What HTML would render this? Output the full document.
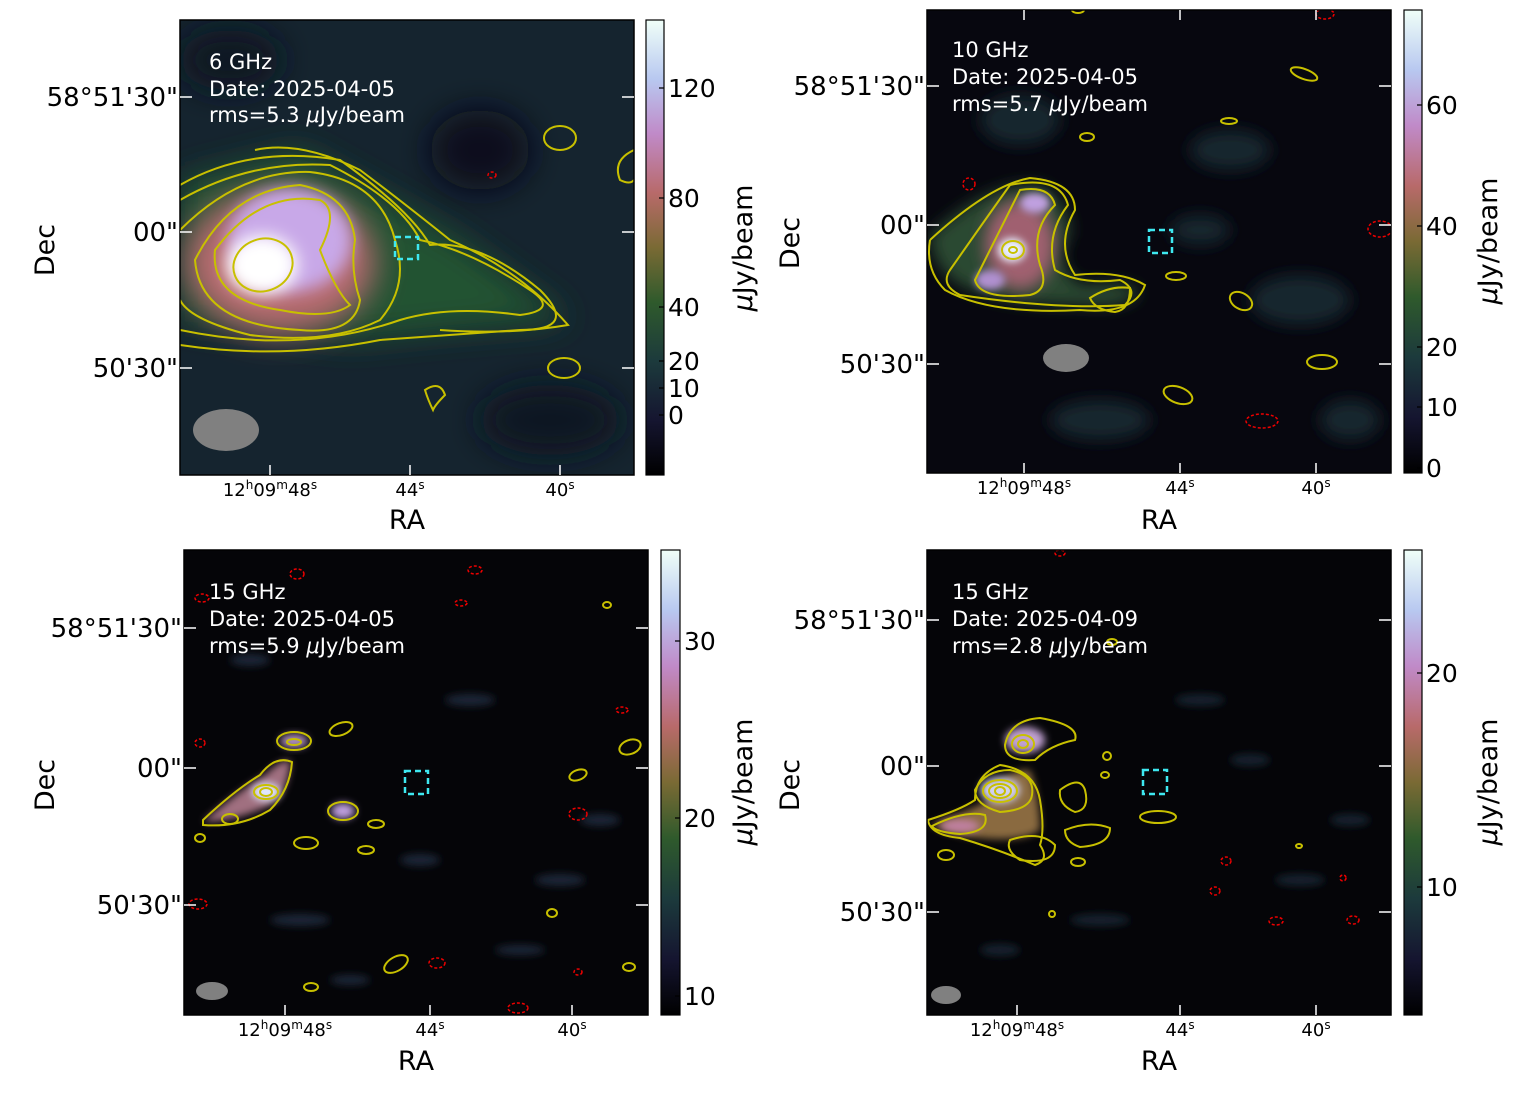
<!DOCTYPE html>
<html><head><meta charset="utf-8"><style>
html,body{margin:0;padding:0;background:#fff;}
svg text{font-family:"DejaVu Sans","Liberation Sans",sans-serif;}
</style></head><body>
<svg width="1520" height="1098" viewBox="0 0 1520 1098" xmlns="http://www.w3.org/2000/svg">
<defs>
<filter id="b8" x="-50%" y="-50%" width="200%" height="200%"><feGaussianBlur stdDeviation="8"/></filter>
<filter id="b14" x="-80%" y="-80%" width="260%" height="260%"><feGaussianBlur stdDeviation="16"/></filter>
<filter id="b4" x="-50%" y="-50%" width="200%" height="200%"><feGaussianBlur stdDeviation="4"/></filter>
<linearGradient id="cb" x1="0" y1="1" x2="0" y2="0">
<stop offset="0" stop-color="#000"/><stop offset="0.12" stop-color="#151530"/><stop offset="0.25" stop-color="#1c3a3c"/>
<stop offset="0.38" stop-color="#2f5a2c"/><stop offset="0.5" stop-color="#7a6a34"/><stop offset="0.62" stop-color="#b86a6a"/>
<stop offset="0.75" stop-color="#c08ac8"/><stop offset="0.87" stop-color="#b8c8f0"/><stop offset="1" stop-color="#f0fff8"/>
</linearGradient>
<clipPath id="c1"><rect x="180" y="20" width="454" height="455"/></clipPath>
<clipPath id="c2"><rect x="927" y="10" width="464" height="463"/></clipPath>
<clipPath id="c3"><rect x="184" y="550" width="464" height="465"/></clipPath>
<clipPath id="c4"><rect x="927" y="550" width="464" height="465"/></clipPath>
</defs>

<!-- Panel 1 -->
<g clip-path="url(#c1)">
<rect x="180" y="20" width="454" height="455" fill="#15242f"/>
<ellipse cx="480" cy="150" rx="50" ry="40" fill="#0c0e1c" filter="url(#b14)"/>
<ellipse cx="550" cy="420" rx="70" ry="35" fill="#0e1220" filter="url(#b14)"/>
<ellipse cx="230" cy="60" rx="50" ry="30" fill="#0e1422" filter="url(#b14)"/>
<path d="M180 180 L300 150 L390 200 L460 240 L570 320 L450 330 L350 340 L180 320 Z" fill="#245232" filter="url(#b14)"/>
<ellipse cx="280" cy="262" rx="95" ry="72" fill="#b86a70" filter="url(#b14)"/>
<ellipse cx="290" cy="240" rx="62" ry="52" fill="#c8a8e8" filter="url(#b8)"/>
<ellipse cx="262" cy="265" rx="36" ry="30" fill="#ffffff" filter="url(#b8)"/>
<g fill="none" stroke="#c8c000" stroke-width="2">
<ellipse cx="263" cy="265" rx="30" ry="26" transform="rotate(-20 263 265)"/>
<path d="M215 250 Q260 190 320 200 Q340 210 320 250 Q335 290 350 305 Q330 320 280 310 Q210 300 215 250Z"/>
<path d="M195 260 Q230 190 300 185 Q350 195 355 240 Q350 270 360 300 Q355 335 300 330 Q200 325 195 260Z"/>
<path d="M180 230 Q240 170 310 172 Q380 180 395 240 Q410 285 380 320 Q330 345 250 335 Q190 320 180 300"/>
<path d="M180 200 Q250 160 330 165 Q400 200 420 240 Q470 250 530 290 Q560 310 520 315 Q450 305 400 320 Q300 355 180 330"/>
<path d="M180 185 Q250 145 340 160 Q410 210 430 245 Q480 240 540 290 Q580 330 520 330 Q450 335 380 340 Q280 360 180 345"/>
<path d="M255 150 Q300 140 360 170 Q400 200 450 240 Q520 270 568 325 Q510 335 440 330"/>
<ellipse cx="560" cy="138" rx="16" ry="12"/><ellipse cx="564" cy="368" rx="16" ry="10"/>
<path d="M634 150 Q612 160 620 180 Q630 185 634 180"/>
<path d="M425 390 Q440 380 445 395 Q435 405 433 410 Q428 400 425 390Z"/>
</g>
<ellipse cx="492" cy="175" rx="4" ry="3" fill="none" stroke="#e00" stroke-width="1.5" stroke-dasharray="3 2"/>
<rect x="395" y="237" width="23" height="22" fill="none" stroke="#3ee8f0" stroke-width="2.5" stroke-dasharray="6 4"/>
<ellipse cx="226" cy="430" rx="33" ry="21" fill="#808080"/>
</g>
<rect x="180" y="20" width="454" height="455" fill="none" stroke="#000" stroke-width="1.5"/>
<g fill="#fff" font-size="21"><text x="209" y="69">6 GHz</text><text x="209" y="96">Date: 2025-04-05</text><text x="209" y="122">rms=5.3 <tspan font-style="italic">μ</tspan>Jy/beam</text></g>

<!-- Panel 2 -->
<g clip-path="url(#c2)">
<rect x="927" y="10" width="464" height="463" fill="#07070f"/>
<g filter="url(#b8)" fill="#16262f">
<ellipse cx="1230" cy="150" rx="40" ry="20"/><ellipse cx="1300" cy="300" rx="50" ry="25"/><ellipse cx="1100" cy="420" rx="50" ry="20"/><ellipse cx="1020" cy="120" rx="40" ry="25"/><ellipse cx="1350" cy="420" rx="30" ry="20"/><ellipse cx="1200" cy="230" rx="30" ry="15"/>
</g>
<path d="M930 235 Q990 180 1040 185 Q1070 200 1070 235 Q1050 260 1080 285 Q1120 280 1140 290 Q1130 310 1080 305 Q1000 305 960 285 Q930 265 930 235Z" fill="#2a4a30" filter="url(#b8)"/>
<ellipse cx="1020" cy="245" rx="35" ry="45" fill="#a06070" filter="url(#b8)"/>
<ellipse cx="1035" cy="203" rx="15" ry="10" fill="#c0a0e0" filter="url(#b4)"/>
<ellipse cx="1012" cy="250" rx="14" ry="12" fill="#e8f0ff" filter="url(#b4)"/>
<ellipse cx="990" cy="280" rx="15" ry="10" fill="#b090d0" filter="url(#b4)"/>
<g fill="none" stroke="#c8c000" stroke-width="2">
<ellipse cx="1013" cy="250" rx="11" ry="9"/><ellipse cx="1013" cy="250" rx="4" ry="3"/>
<path d="M975 280 Q1000 230 1020 190 Q1050 185 1055 205 Q1030 230 1040 265 Q1050 290 1030 295 Q980 300 975 280Z"/>
<path d="M950 270 Q985 220 1010 185 Q1060 175 1068 205 Q1045 235 1055 270 Q1080 285 1120 280 Q1140 290 1125 305 Q1060 310 960 295 Q940 285 950 270Z"/>
<path d="M930 240 Q990 185 1030 178 Q1075 182 1075 210 Q1055 245 1075 275 Q1120 270 1145 285 Q1135 315 1080 310 Q990 315 945 290 Q925 270 930 240"/>
<path d="M1090 298 Q1110 285 1130 288 Q1130 310 1115 312 Q1095 310 1090 298Z"/>
<ellipse cx="1241" cy="301" rx="12" ry="8" transform="rotate(30 1241 301)"/><ellipse cx="1322" cy="362" rx="15" ry="7"/>
<ellipse cx="1178" cy="395" rx="15" ry="8" transform="rotate(20 1178 395)"/><ellipse cx="1304" cy="74" rx="14" ry="5" transform="rotate(20 1304 74)"/>
<ellipse cx="1229" cy="121" rx="8" ry="3"/><ellipse cx="1087" cy="137" rx="7" ry="4"/><ellipse cx="1176" cy="276" rx="10" ry="4"/><ellipse cx="1078" cy="10" rx="6" ry="3"/>
</g>
<g fill="none" stroke="#e00" stroke-width="1.5" stroke-dasharray="3 2">
<ellipse cx="969" cy="184" rx="6" ry="6"/><ellipse cx="1262" cy="421" rx="16" ry="7"/><ellipse cx="1380" cy="229" rx="12" ry="8"/><ellipse cx="1325" cy="14" rx="9" ry="5"/>
</g>
<rect x="1149" y="230" width="23" height="23" fill="none" stroke="#3ee8f0" stroke-width="2.5" stroke-dasharray="6 4"/>
<ellipse cx="1066" cy="358" rx="23" ry="14" fill="#808080"/>
</g>
<rect x="927" y="10" width="464" height="463" fill="none" stroke="#000" stroke-width="1.5"/>
<g fill="#fff" font-size="21"><text x="952" y="57">10 GHz</text><text x="952" y="84">Date: 2025-04-05</text><text x="952" y="111">rms=5.7 <tspan font-style="italic">μ</tspan>Jy/beam</text></g>

<!-- Panel 3 -->
<g clip-path="url(#c3)">
<rect x="184" y="550" width="464" height="465" fill="#050508"/>
<g filter="url(#b4)" fill="#1c2838">
<ellipse cx="470" cy="700" rx="25" ry="6"/><ellipse cx="560" cy="880" rx="25" ry="6"/><ellipse cx="300" cy="920" rx="30" ry="6"/><ellipse cx="420" cy="860" rx="20" ry="6"/><ellipse cx="600" cy="820" rx="20" ry="6"/><ellipse cx="250" cy="660" rx="20" ry="6"/><ellipse cx="520" cy="950" rx="25" ry="5"/><ellipse cx="350" cy="980" rx="20" ry="5"/>
</g>
<path d="M205 820 Q240 790 265 775 Q280 760 290 760 Q290 790 270 805 Q240 820 205 822Z" fill="#a07080" filter="url(#b4)"/>
<ellipse cx="266" cy="792" rx="14" ry="9" fill="#e0e8ff" filter="url(#b4)"/>
<ellipse cx="294" cy="741" rx="14" ry="7" fill="#b090c0" filter="url(#b4)"/>
<ellipse cx="343" cy="811" rx="12" ry="8" fill="#c0a0e0" filter="url(#b4)"/>
<g fill="none" stroke="#c8c000" stroke-width="2">
<ellipse cx="266" cy="792" rx="12" ry="7"/><ellipse cx="266" cy="792" rx="6" ry="4"/>
<path d="M203 820 Q235 790 260 775 Q275 755 292 762 Q290 790 270 810 Q240 828 203 825Z"/>
<ellipse cx="230" cy="819" rx="8" ry="5"/>
<ellipse cx="294" cy="741" rx="17" ry="9"/><ellipse cx="294" cy="742" rx="7" ry="3"/>
<ellipse cx="343" cy="811" rx="15" ry="9"/><ellipse cx="341" cy="729" rx="12" ry="6" transform="rotate(-20 341 729)"/>
<ellipse cx="306" cy="843" rx="12" ry="6"/><ellipse cx="376" cy="824" rx="8" ry="4"/><ellipse cx="366" cy="850" rx="8" ry="4"/>
<ellipse cx="630" cy="747" rx="11" ry="7" transform="rotate(-20 630 747)"/><ellipse cx="578" cy="775" rx="9" ry="5" transform="rotate(-20 578 775)"/>
<ellipse cx="396" cy="964" rx="13" ry="7" transform="rotate(-30 396 964)"/><ellipse cx="311" cy="987" rx="7" ry="4"/>
<ellipse cx="552" cy="913" rx="5" ry="4"/><ellipse cx="629" cy="967" rx="6" ry="4"/><ellipse cx="200" cy="838" rx="5" ry="4"/><ellipse cx="607" cy="605" rx="4" ry="3"/>
</g>
<g fill="none" stroke="#e00" stroke-width="1.5" stroke-dasharray="3 2">
<ellipse cx="297" cy="574" rx="7" ry="5"/><ellipse cx="202" cy="598" rx="7" ry="4"/><ellipse cx="475" cy="570" rx="7" ry="4"/><ellipse cx="461" cy="603" rx="6" ry="3"/><ellipse cx="200" cy="743" rx="5" ry="4"/><ellipse cx="578" cy="814" rx="9" ry="6"/><ellipse cx="198" cy="904" rx="9" ry="5"/><ellipse cx="437" cy="963" rx="8" ry="5"/><ellipse cx="518" cy="1008" rx="10" ry="5"/><ellipse cx="622" cy="710" rx="6" ry="3"/><ellipse cx="578" cy="972" rx="4" ry="3"/>
</g>
<rect x="405" y="771" width="23" height="23" fill="none" stroke="#3ee8f0" stroke-width="2.5" stroke-dasharray="6 4"/>
<ellipse cx="212" cy="991" rx="16" ry="9" fill="#808080"/>
</g>
<rect x="184" y="550" width="464" height="465" fill="none" stroke="#000" stroke-width="1.5"/>
<g fill="#fff" font-size="21"><text x="209" y="599">15 GHz</text><text x="209" y="626">Date: 2025-04-05</text><text x="209" y="653">rms=5.9 <tspan font-style="italic">μ</tspan>Jy/beam</text></g>

<!-- Panel 4 -->
<g clip-path="url(#c4)">
<rect x="927" y="550" width="464" height="465" fill="#050508"/>
<g filter="url(#b4)" fill="#18202e">
<ellipse cx="1200" cy="700" rx="25" ry="6"/><ellipse cx="1300" cy="880" rx="25" ry="6"/><ellipse cx="1100" cy="920" rx="30" ry="6"/><ellipse cx="1250" cy="760" rx="20" ry="6"/><ellipse cx="1350" cy="820" rx="20" ry="6"/><ellipse cx="1000" cy="950" rx="20" ry="6"/>
</g>
<path d="M930 825 Q970 810 990 800 Q1000 770 1030 770 Q1040 800 1040 830 Q1020 845 960 835 Z" fill="#8a6a40" filter="url(#b4)"/>
<ellipse cx="960" cy="826" rx="20" ry="7" fill="#c080a0" filter="url(#b4)"/>
<ellipse cx="1000" cy="790" rx="20" ry="13" fill="#d0d0f0" filter="url(#b4)"/>
<ellipse cx="1025" cy="740" rx="20" ry="13" fill="#c0a0d0" filter="url(#b4)"/>
<g fill="none" stroke="#c8c000" stroke-width="2">
<ellipse cx="1000" cy="791" rx="17" ry="11"/><ellipse cx="1000" cy="791" rx="11" ry="7"/><ellipse cx="1000" cy="791" rx="5" ry="4"/>
<ellipse cx="1023" cy="744" rx="11" ry="9"/><ellipse cx="1023" cy="744" rx="5" ry="4"/>
<path d="M1005 745 Q1010 720 1040 718 Q1080 725 1075 740 Q1050 745 1035 760 Q1005 762 1005 745Z"/>
<path d="M975 790 Q985 770 1010 770 Q1035 775 1032 795 Q1030 810 1000 812 Q975 805 975 790Z"/>
<path d="M928 820 Q960 810 975 800 Q975 775 1000 765 Q1035 770 1040 800 Q1045 830 1040 845 Q1050 860 1035 865 Q1000 850 960 838 Q930 835 928 820Z"/>
<path d="M932 826 Q965 810 985 815 Q990 832 960 834 Q935 832 932 826Z"/>
<path d="M1010 840 Q1040 830 1055 845 Q1055 865 1020 860 Q1005 850 1010 840Z"/>
<path d="M1060 790 Q1080 775 1085 790 Q1090 810 1075 812 Q1058 805 1060 790Z"/>
<path d="M1065 830 Q1090 820 1110 828 Q1110 845 1080 847 Q1065 842 1065 830Z"/>
<ellipse cx="1158" cy="817" rx="18" ry="6"/><ellipse cx="946" cy="855" rx="8" ry="5"/><ellipse cx="1078" cy="862" rx="7" ry="4"/>
<ellipse cx="1107" cy="756" rx="4" ry="4"/><ellipse cx="1105" cy="775" rx="4" ry="3"/><ellipse cx="1112" cy="642" rx="5" ry="3"/><ellipse cx="1052" cy="914" rx="3" ry="3"/><ellipse cx="1299" cy="846" rx="3" ry="2"/>
</g>
<g fill="none" stroke="#e00" stroke-width="1.5" stroke-dasharray="3 2">
<ellipse cx="1226" cy="861" rx="5" ry="4"/><ellipse cx="1215" cy="891" rx="5" ry="4"/><ellipse cx="1276" cy="921" rx="7" ry="4"/><ellipse cx="1353" cy="920" rx="6" ry="4"/><ellipse cx="1060" cy="553" rx="5" ry="3"/><ellipse cx="1343" cy="878" rx="3" ry="3"/>
</g>
<rect x="1143" y="770" width="24" height="24" fill="none" stroke="#3ee8f0" stroke-width="2.5" stroke-dasharray="6 4"/>
<ellipse cx="946" cy="995" rx="15" ry="9" fill="#808080"/>
</g>
<rect x="927" y="550" width="464" height="465" fill="none" stroke="#000" stroke-width="1.5"/>
<g fill="#fff" font-size="21"><text x="952" y="599">15 GHz</text><text x="952" y="626">Date: 2025-04-09</text><text x="952" y="653">rms=2.8 <tspan font-style="italic">μ</tspan>Jy/beam</text></g>

<!-- white ticks -->
<g stroke="#fff" stroke-width="1.5">
<path d="M180 97h12M180 232h12M180 368h12M622 97h12M622 232h12M622 368h12M270 475v-10M410 475v-10M560 475v-10"/>
<path d="M927 86h12M927 225h12M927 364h12M1379 86h12M1379 225h12M1379 364h12M1024 473v-10M1180 473v-10M1316 473v-10M1024 10v10M1180 10v10M1316 10v10"/>
<path d="M184 628h12M184 768h12M184 905h12M636 628h12M636 768h12M636 905h12M285 1015v-10M430 1015v-10M572 1015v-10"/>
<path d="M927 620h12M927 766h12M927 912h12M1379 620h12M1379 766h12M1379 912h12M1017 1015v-10M1180 1015v-10M1316 1015v-10"/>
</g>

<!-- Colorbars -->
<g stroke="#000" stroke-width="1.2">
<rect x="646" y="20" width="18" height="455" fill="url(#cb)"/>
<rect x="1404" y="10" width="18" height="463" fill="url(#cb)"/>
<rect x="661" y="550" width="19" height="465" fill="url(#cb)"/>
<rect x="1404" y="550" width="18" height="465" fill="url(#cb)"/>
<path d="M664 88h-5M664 198h-5M664 307h-5M664 361h-5M664 388h-5M664 415h-5"/>
<path d="M1422 105h-5M1422 226h-5M1422 347h-5M1422 407h-5M1422 468h-5"/>
<path d="M680 641h-5M680 818h-5M680 996h-5"/>
<path d="M1422 673h-5M1422 887h-5"/>
</g>
<g fill="#000" font-size="25">
<text x="668" y="97">120</text><text x="668" y="207">80</text><text x="668" y="316">40</text><text x="668" y="370">20</text><text x="668" y="397">10</text><text x="668" y="424">0</text>
<text x="1426" y="114">60</text><text x="1426" y="235">40</text><text x="1426" y="356">20</text><text x="1426" y="416">10</text><text x="1426" y="477">0</text>
<text x="684" y="650">30</text><text x="684" y="827">20</text><text x="684" y="1005">10</text>
<text x="1426" y="682">20</text><text x="1426" y="896">10</text>
</g>
<g fill="#000" font-size="27">
<text transform="translate(752 248) rotate(-90)" text-anchor="middle"><tspan font-style="italic">μ</tspan>Jy/beam</text>
<text transform="translate(1497 241) rotate(-90)" text-anchor="middle"><tspan font-style="italic">μ</tspan>Jy/beam</text>
<text transform="translate(752 782) rotate(-90)" text-anchor="middle"><tspan font-style="italic">μ</tspan>Jy/beam</text>
<text transform="translate(1497 782) rotate(-90)" text-anchor="middle"><tspan font-style="italic">μ</tspan>Jy/beam</text>
</g>

<!-- Axis labels -->
<g fill="#000" font-size="26" text-anchor="end">
<text x="178" y="106">58°51'30"</text><text x="178" y="241">00"</text><text x="178" y="377">50'30"</text>
<text x="925" y="95">58°51'30"</text><text x="925" y="234">00"</text><text x="925" y="373">50'30"</text>
<text x="182" y="637">58°51'30"</text><text x="182" y="777">00"</text><text x="182" y="914">50'30"</text>
<text x="925" y="629">58°51'30"</text><text x="925" y="775">00"</text><text x="925" y="921">50'30"</text>
</g>
<g fill="#000" font-size="27" text-anchor="middle">
<text transform="translate(54 250) rotate(-90)">Dec</text>
<text transform="translate(799 243) rotate(-90)">Dec</text>
<text transform="translate(54 785) rotate(-90)">Dec</text>
<text transform="translate(799 785) rotate(-90)">Dec</text>
<text x="407" y="529">RA</text><text x="1159" y="529">RA</text><text x="416" y="1070">RA</text><text x="1159" y="1070">RA</text>
</g>
<g fill="#000" font-size="18" text-anchor="middle">
<text x="270" y="496">12<tspan font-size="12" dy="-7">h</tspan><tspan dy="7">09</tspan><tspan font-size="12" dy="-7">m</tspan><tspan dy="7">48</tspan><tspan font-size="12" dy="-7">s</tspan></text>
<text x="410" y="496">44<tspan font-size="12" dy="-7">s</tspan></text><text x="560" y="496">40<tspan font-size="12" dy="-7">s</tspan></text>
<text x="1024" y="494">12<tspan font-size="12" dy="-7">h</tspan><tspan dy="7">09</tspan><tspan font-size="12" dy="-7">m</tspan><tspan dy="7">48</tspan><tspan font-size="12" dy="-7">s</tspan></text>
<text x="1180" y="494">44<tspan font-size="12" dy="-7">s</tspan></text><text x="1316" y="494">40<tspan font-size="12" dy="-7">s</tspan></text>
<text x="285" y="1036">12<tspan font-size="12" dy="-7">h</tspan><tspan dy="7">09</tspan><tspan font-size="12" dy="-7">m</tspan><tspan dy="7">48</tspan><tspan font-size="12" dy="-7">s</tspan></text>
<text x="430" y="1036">44<tspan font-size="12" dy="-7">s</tspan></text><text x="572" y="1036">40<tspan font-size="12" dy="-7">s</tspan></text>
<text x="1017" y="1036">12<tspan font-size="12" dy="-7">h</tspan><tspan dy="7">09</tspan><tspan font-size="12" dy="-7">m</tspan><tspan dy="7">48</tspan><tspan font-size="12" dy="-7">s</tspan></text>
<text x="1180" y="1036">44<tspan font-size="12" dy="-7">s</tspan></text><text x="1316" y="1036">40<tspan font-size="12" dy="-7">s</tspan></text>
</g>
</svg>
</body></html>
